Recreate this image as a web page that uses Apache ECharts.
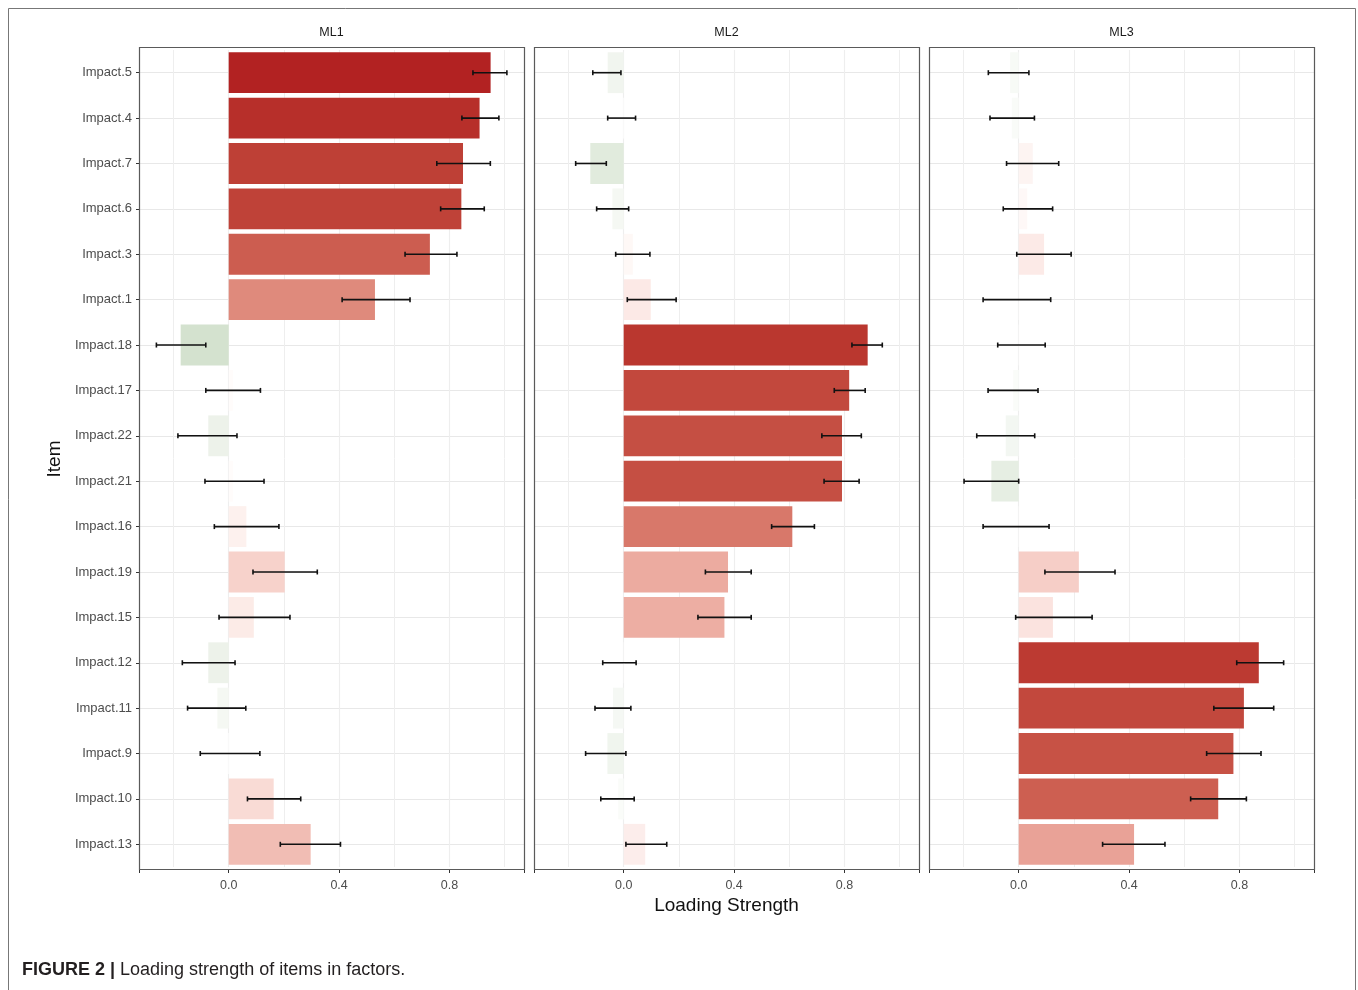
<!DOCTYPE html>
<html><head><meta charset="utf-8">
<script src="https://cdn.jsdelivr.net/npm/echarts@6/dist/echarts.min.js"></script>
<style>html,body{margin:0;padding:0;background:#fff}#chart{width:1358px;height:990px}</style>
</head><body><div id="chart"></div>
<script>
// ---------------- data ----------------
const items = ['Impact.5','Impact.4','Impact.7','Impact.6','Impact.3','Impact.1','Impact.18','Impact.17','Impact.22','Impact.21','Impact.16','Impact.19','Impact.15','Impact.12','Impact.11','Impact.9','Impact.10','Impact.13'];
const factors = ['ML1','ML2','ML3'];
const xTickValues = [0.0, 0.4, 0.8];

const ml1Loading = [0.949,0.909,0.849,0.843,0.729,0.530,-0.174,0.015,-0.074,0.015,0.064,0.203,0.091,-0.074,-0.041,-0.005,0.163,0.297];
const ml1Lower   = [0.885,0.845,0.754,0.768,0.639,0.411,-0.262,-0.083,-0.184,-0.086,-0.052,0.088,-0.035,-0.168,-0.149,-0.103,0.068,0.187];
const ml1Upper   = [1.008,0.979,0.948,0.926,0.827,0.657,-0.083,0.115,0.030,0.128,0.182,0.321,0.222,0.023,0.062,0.113,0.261,0.405];

const ml2Loading = [-0.058,-0.005,-0.121,-0.041,0.033,0.098,0.884,0.817,0.791,0.791,0.611,0.378,0.365,0.004,-0.039,-0.059,-0.020,0.078];
const ml2Lower   = [-0.112,-0.058,-0.174,-0.098,-0.029,0.013,0.827,0.763,0.718,0.726,0.536,0.296,0.269,-0.076,-0.104,-0.138,-0.083,0.008];
const ml2Upper   = [-0.010,0.043,-0.063,0.018,0.095,0.190,0.937,0.875,0.861,0.853,0.691,0.462,0.462,0.045,0.026,0.008,0.038,0.156];

const ml3Loading = [-0.031,-0.025,0.051,0.031,0.092,0.003,0.003,-0.020,-0.047,-0.099,0.003,0.218,0.124,0.870,0.816,0.778,0.723,0.418];
const ml3Lower   = [-0.110,-0.104,-0.044,-0.056,-0.007,-0.129,-0.076,-0.111,-0.152,-0.198,-0.129,0.095,-0.011,0.790,0.707,0.681,0.623,0.304];
const ml3Upper   = [0.037,0.057,0.145,0.123,0.190,0.116,0.096,0.070,0.058,0.000,0.110,0.349,0.266,0.960,0.924,0.878,0.825,0.530];

const loadings = [ml1Loading, ml2Loading, ml3Loading];
const lowers = [ml1Lower, ml2Lower, ml3Lower];
const uppers = [ml1Upper, ml2Upper, ml3Upper];

// ---------------- colour scale (Lab gradient, white mid) ----------------
const HIGH = [178,34,34];   // firebrick
const LOW  = [0,100,0];     // darkgreen
function s2l(c){c/=255;return c<=0.04045?c/12.92:Math.pow((c+0.055)/1.055,2.4);}
function l2s(c){c=c<=0.0031308?12.92*c:1.055*Math.pow(c,1/2.4)-0.055;return Math.round(Math.max(0,Math.min(1,c))*255);}
const WX=0.95047,WY=1,WZ=1.08883;
function f(t){return t>0.008856?Math.cbrt(t):(7.787*t+16/116);}
function fi(t){const t3=t*t*t;return t3>0.008856?t3:(t-16/116)/7.787;}
function rgb2lab(c){const r=s2l(c[0]),g=s2l(c[1]),b=s2l(c[2]);
  const X=(0.4124*r+0.3576*g+0.1805*b)/WX,Y=(0.2126*r+0.7152*g+0.0722*b)/WY,Z=(0.0193*r+0.1192*g+0.9505*b)/WZ;
  const fx=f(X),fy=f(Y),fz=f(Z);return [116*fy-16,500*(fx-fy),200*(fy-fz)];}
function lab2rgb(l){const fy=(l[0]+16)/116,fx=fy+l[1]/500,fz=fy-l[2]/200;
  const X=fi(fx)*WX,Y=fi(fy)*WY,Z=fi(fz)*WZ;
  const r=3.2406*X-1.5372*Y-0.4986*Z,g=-0.9689*X+1.8758*Y+0.0415*Z,b=0.0557*X-0.2040*Y+1.0570*Z;
  return 'rgb('+l2s(r)+','+l2s(g)+','+l2s(b)+')';}
const labW=rgb2lab([255,255,255]),labH=rgb2lab(HIGH),labL=rgb2lab(LOW);
const maxAbs=Math.max(...loadings.flat().map(Math.abs));
function fill(v){const t=Math.min(1,Math.abs(v)/maxAbs);const e=v>=0?labH:labL;
  return lab2rgb([0,1,2].map(i=>labW[i]+(e[i]-labW[i])*t));}

// ---------------- layout ----------------
const X_MIN=-0.325, X_MAX=1.07;
const panelLeft=[139,534,929], panelW=385, gTop=50, gH=817;
const FONT='"Liberation Sans", Arial, Helvetica, sans-serif';

function renderErr(params, api){
  const y=api.value(2);
  const p1=api.coord([api.value(0),y]), p2=api.coord([api.value(1),y]);
  const h=2.5, st={stroke:'#111',lineWidth:1.6};
  return {type:'group',children:[
    {type:'line',shape:{x1:p1[0],y1:p1[1],x2:p2[0],y2:p2[1]},style:st},
    {type:'line',shape:{x1:p1[0],y1:p1[1]-h,x2:p1[0],y2:p1[1]+h},style:st},
    {type:'line',shape:{x1:p2[0],y1:p2[1]-h,x2:p2[0],y2:p2[1]+h},style:st}]};
}

const grid=[],xAxis=[],yAxis=[],series=[],graphic=[];
factors.forEach((fac,i)=>{
  grid.push({left:panelLeft[i],top:gTop,width:panelW,height:gH,show:false});
  xAxis.push({type:'value',gridIndex:i,min:X_MIN,max:X_MAX,minInterval:0.4,maxInterval:0.4,offset:3,
    axisLine:{show:false,onZero:false},axisTick:{show:true,length:3,lineStyle:{color:'#333',width:1}},
    axisLabel:{margin:9,color:'#4d4d4d',fontSize:12.5,fontFamily:FONT,
      formatter:v=>xTickValues.some(t=>Math.abs(t-v)<1e-6)?v.toFixed(1):''},
    splitLine:{show:true,lineStyle:{color:'#e6e6e6',width:1.1}}});
  xAxis.push({type:'value',gridIndex:i,min:X_MIN,max:X_MAX,minInterval:0.2,maxInterval:0.2,
    axisLine:{show:false,onZero:false},axisTick:{show:false},axisLabel:{show:false},
    splitLine:{show:true,lineStyle:{color:'#eeeeee',width:1}}});
  yAxis.push({type:'category',gridIndex:i,data:items,inverse:true,
    axisLine:{show:false,onZero:false},
    axisTick:{show:i===0,length:3,alignWithLabel:true,lineStyle:{color:'#333'}},
    axisLabel:{show:i===0,margin:7,color:'#4d4d4d',fontSize:13,fontFamily:FONT},
    splitLine:{show:true,alignWithLabel:true,lineStyle:{color:'#e8e8e8',width:1}}});
  series.push({type:'bar',xAxisIndex:2*i,yAxisIndex:i,barWidth:'90%',silent:true,
    data:loadings[i].map(v=>({value:v,itemStyle:{color:fill(v)}}))});
  series.push({type:'custom',xAxisIndex:2*i,yAxisIndex:i,renderItem:renderErr,silent:true,z:5,
    encode:{x:[0,1],y:2},
    data:items.map((n,k)=>[lowers[i][k],uppers[i][k],k])});
  graphic.push({type:'rect',shape:{x:panelLeft[i]+0.5,y:47.5,width:panelW,height:822},
    style:{fill:'none',stroke:'#5a5a5a',lineWidth:1.2},z:10});
  graphic.push({type:'text',x:panelLeft[i]+panelW/2,y:33,
    style:{text:fac,align:'center',verticalAlign:'middle',fontSize:12.5,fontFamily:FONT,fill:'#1a1a1a'}});
});
graphic.push({type:'rect',shape:{x:8.5,y:8.5,width:1347,height:1000},style:{fill:'none',stroke:'#777',lineWidth:1}});
graphic.push({type:'text',x:55,y:459,rotation:Math.PI/2,
  style:{text:'Item',align:'center',verticalAlign:'middle',fontSize:19,fontFamily:FONT,fill:'#111'}});
graphic.push({type:'text',x:726.5,y:906,
  style:{text:'Loading Strength',align:'center',verticalAlign:'middle',fontSize:19,fontFamily:FONT,fill:'#111'}});
graphic.push({type:'text',x:22,y:970,
  style:{text:'{b|FIGURE 2 |} Loading strength of items in factors.',verticalAlign:'middle',
    fontSize:18,fontFamily:FONT,fill:'#231f20',
    rich:{b:{fontWeight:'bold',fontSize:18,fontFamily:FONT,fill:'#231f20'}}}});

const chart=echarts.init(document.getElementById('chart'),null,{renderer:'canvas'});
chart.setOption({animation:false,backgroundColor:'#fff',grid,xAxis,yAxis,series,graphic});
</script></body></html>
